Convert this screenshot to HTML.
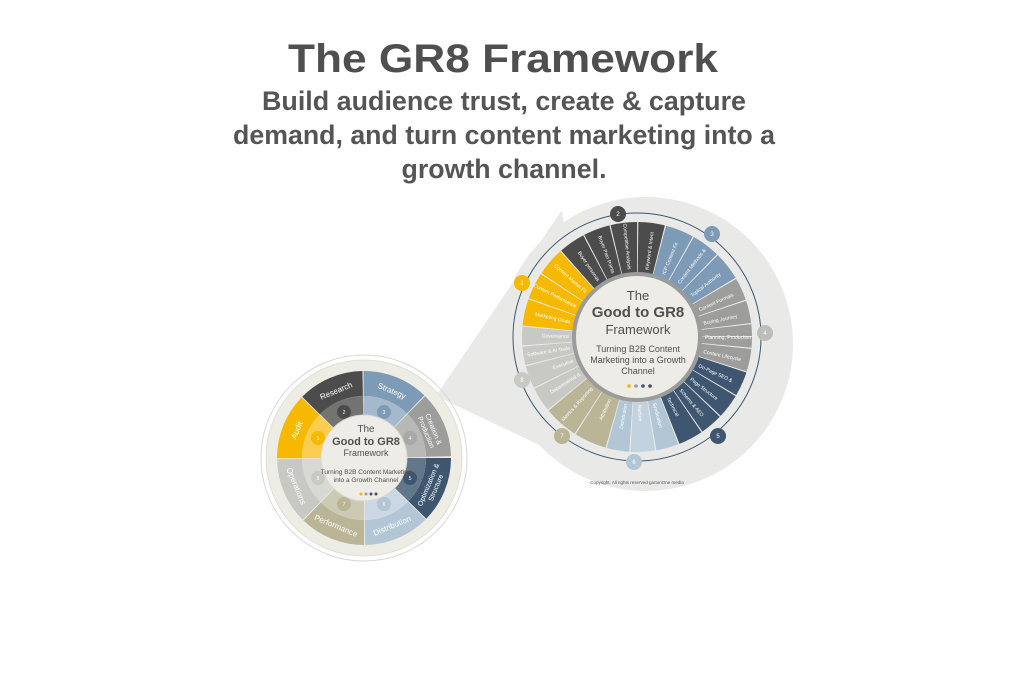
<!DOCTYPE html>
<html><head><meta charset="utf-8"><style>
html,body{margin:0;padding:0;background:#fff;}
svg{display:block;}
text{font-family:"Liberation Sans",sans-serif;}
.bl{font-size:5px;fill:#fff;}
.sl{font-size:8px;fill:#fff;}
</style></head><body>
<svg width="1024" height="686" viewBox="0 0 1024 686" xmlns="http://www.w3.org/2000/svg">
<rect width="1024" height="686" fill="#fff"/>
<text x="503" y="72" text-anchor="middle" font-size="40" font-weight="bold" fill="#4f4f4f" textLength="430" lengthAdjust="spacingAndGlyphs">The GR8 Framework</text>
<text x="504" y="110" text-anchor="middle" font-size="27" font-weight="bold" fill="#555" textLength="484" lengthAdjust="spacingAndGlyphs">Build audience trust, create &amp; capture</text>
<text x="504" y="144" text-anchor="middle" font-size="27" font-weight="bold" fill="#555" textLength="542" lengthAdjust="spacingAndGlyphs">demand, and turn content marketing into a</text>
<text x="504" y="178" text-anchor="middle" font-size="27" font-weight="bold" fill="#555" textLength="205" lengthAdjust="spacingAndGlyphs">growth channel.</text>

<!-- cone + big bg -->
<polygon points="436,396 562,210 592,470" fill="#e9e9e8"/>
<circle cx="646" cy="344" r="147" fill="#e9e9e8"/>

<!-- big wheel -->
<g fill="none" stroke-width="52">
<circle cx="637" cy="337" r="89" pathLength="360" stroke="#f6b900" stroke-dasharray="13.4 360" stroke-dashoffset="-186"/>
<circle cx="637" cy="337" r="89" pathLength="360" stroke="#f6b900" stroke-dasharray="13.4 360" stroke-dashoffset="-200"/>
<circle cx="637" cy="337" r="89" pathLength="360" stroke="#f6b900" stroke-dasharray="14.4 360" stroke-dashoffset="-214"/>
<circle cx="637" cy="337" r="89" pathLength="360" stroke="#4b4c4b" stroke-dasharray="13.4 360" stroke-dashoffset="-229"/>
<circle cx="637" cy="337" r="89" pathLength="360" stroke="#4b4c4b" stroke-dasharray="13.4 360" stroke-dashoffset="-243"/>
<circle cx="637" cy="337" r="89" pathLength="360" stroke="#4b4c4b" stroke-dasharray="13.4 360" stroke-dashoffset="-257"/>
<circle cx="637" cy="337" r="89" pathLength="360" stroke="#4b4c4b" stroke-dasharray="13.4 360" stroke-dashoffset="-271"/>
<circle cx="637" cy="337" r="89" pathLength="360" stroke="#7d9ab6" stroke-dasharray="14.4 360" stroke-dashoffset="-285"/>
<circle cx="637" cy="337" r="89" pathLength="360" stroke="#7d9ab6" stroke-dasharray="14.4 360" stroke-dashoffset="-300"/>
<circle cx="637" cy="337" r="89" pathLength="360" stroke="#7d9ab6" stroke-dasharray="14.4 360" stroke-dashoffset="-315"/>
<circle cx="637" cy="337" r="89" pathLength="360" stroke="#9d9d9b" stroke-dasharray="11.4 360" stroke-dashoffset="-330"/>
<circle cx="637" cy="337" r="89" pathLength="360" stroke="#9d9d9b" stroke-dasharray="11.4 360" stroke-dashoffset="-342"/>
<circle cx="637" cy="337" r="89" pathLength="360" stroke="#9d9d9b" stroke-dasharray="6 360" stroke-dashoffset="-354"/>
<circle cx="637" cy="337" r="89" pathLength="360" stroke="#9d9d9b" stroke-dasharray="5.4 360" stroke-dashoffset="0"/>
<circle cx="637" cy="337" r="89" pathLength="360" stroke="#9d9d9b" stroke-dasharray="11.4 360" stroke-dashoffset="-6"/>
<circle cx="637" cy="337" r="89" pathLength="360" stroke="#3e5670" stroke-dasharray="12.4 360" stroke-dashoffset="-18"/>
<circle cx="637" cy="337" r="89" pathLength="360" stroke="#3e5670" stroke-dasharray="12.4 360" stroke-dashoffset="-31"/>
<circle cx="637" cy="337" r="89" pathLength="360" stroke="#3e5670" stroke-dasharray="11.4 360" stroke-dashoffset="-44"/>
<circle cx="637" cy="337" r="89" pathLength="360" stroke="#3e5670" stroke-dasharray="12.4 360" stroke-dashoffset="-56"/>
<circle cx="637" cy="337" r="89" pathLength="360" stroke="#b3c6d6" stroke-dasharray="11.4 360" stroke-dashoffset="-69"/>
<circle cx="637" cy="337" r="89" pathLength="360" stroke="#c3d2df" stroke-dasharray="12.4 360" stroke-dashoffset="-81"/>
<circle cx="637" cy="337" r="89" pathLength="360" stroke="#b3c6d6" stroke-dasharray="11.4 360" stroke-dashoffset="-94"/>
<circle cx="637" cy="337" r="89" pathLength="360" stroke="#b9b596" stroke-dasharray="16.4 360" stroke-dashoffset="-106"/>
<circle cx="637" cy="337" r="89" pathLength="360" stroke="#b9b596" stroke-dasharray="17.4 360" stroke-dashoffset="-123"/>
<circle cx="637" cy="337" r="89" pathLength="360" stroke="#c8c8c4" stroke-dasharray="12.4 360" stroke-dashoffset="-141"/>
<circle cx="637" cy="337" r="89" pathLength="360" stroke="#c8c8c4" stroke-dasharray="11.4 360" stroke-dashoffset="-154"/>
<circle cx="637" cy="337" r="89" pathLength="360" stroke="#c8c8c4" stroke-dasharray="9.4 360" stroke-dashoffset="-166"/>
<circle cx="637" cy="337" r="89" pathLength="360" stroke="#c8c8c4" stroke-dasharray="9.4 360" stroke-dashoffset="-176"/>
</g>
<!-- big labels -->
<g class="bl">
<text transform="rotate(13 637 337)" x="569" y="339" text-anchor="end">Marketing Goals</text>
<text transform="rotate(27 637 337)" x="569" y="339" text-anchor="end">Content Performance</text>
<text transform="rotate(41.5 637 337)" x="569" y="339" text-anchor="end">Content Market Fit</text>
<text transform="rotate(56 637 337)" x="569" y="339" text-anchor="end">Buyer personas</text>
<text transform="rotate(70 637 337)" x="569" y="339" text-anchor="end">Buyer Pain Points</text>
<text transform="rotate(84 637 337)" x="569" y="339" text-anchor="end">Competitive Analysis</text>
<text transform="rotate(278 637 337)" x="705" y="339">Keyword &amp; Intent</text>
<text transform="rotate(292.5 637 337)" x="705" y="339">ICP Content Fit</text>
<text transform="rotate(307.5 637 337)" x="705" y="339">Content Methods &amp;</text>
<text transform="rotate(322.5 637 337)" x="705" y="339">Topical Authority</text>
<text transform="rotate(336 637 337)" x="705" y="339">Content Formats</text>
<text transform="rotate(348 637 337)" x="705" y="339">Buying Journey</text>
<text transform="rotate(0 637 337)" x="705" y="339">Planning, Production</text>
<text transform="rotate(12 637 337)" x="705" y="339">Content Lifecycle</text>
<text transform="rotate(24.5 637 337)" x="705" y="339">On-Page SEO &amp;</text>
<text transform="rotate(37.5 637 337)" x="705" y="339">Page Structure</text>
<text transform="rotate(50 637 337)" x="705" y="339">Schema &amp; AEO</text>
<text transform="rotate(62.5 637 337)" x="705" y="339">Technical</text>
<text transform="rotate(75 637 337)" x="705" y="339">Syndication</text>
<text transform="rotate(87.5 637 337)" x="705" y="339">Nurture</text>
<text transform="rotate(-80 637 337)" x="569" y="339" text-anchor="end">Distribution</text>
<text transform="rotate(-66 637 337)" x="569" y="339" text-anchor="end">Attribution</text>
<text transform="rotate(-48 637 337)" x="569" y="339" text-anchor="end">Metrics &amp; Reporting</text>
<text transform="rotate(-32.5 637 337)" x="569" y="339" text-anchor="end">Departmental &amp;</text>
<text transform="rotate(-20 637 337)" x="569" y="339" text-anchor="end">Executive</text>
<text transform="rotate(-9 637 337)" x="569" y="339" text-anchor="end">Software &amp; AI Tools</text>
<text transform="rotate(1 637 337)" x="569" y="339" text-anchor="end">Governance</text>
</g>
<!-- ring -->
<circle cx="637" cy="337" r="124" fill="none" stroke="#3e5670" stroke-width="1"/>
<g font-size="6" fill="#fff" text-anchor="middle">
<circle cx="522" cy="283" r="8" fill="#f6b900"/><text x="522" y="285">1</text>
<circle cx="618" cy="214" r="8" fill="#4b4c4b"/><text x="618" y="216">2</text>
<circle cx="712" cy="234" r="8" fill="#7d9ab6"/><text x="712" y="236">3</text>
<circle cx="765" cy="333" r="8" fill="#bdbdbb"/><text x="765" y="335">4</text>
<circle cx="718" cy="436" r="8" fill="#3e5670"/><text x="718" y="438">5</text>
<circle cx="634" cy="462" r="8" fill="#b3c6d6"/><text x="634" y="464">6</text>
<circle cx="562" cy="436" r="8" fill="#b9b596"/><text x="562" y="438">7</text>
<circle cx="522" cy="380" r="8" fill="#c8c8c4"/><text x="522" y="382">8</text>
</g>
<!-- big center -->
<circle cx="637" cy="337" r="63" fill="#edece6" stroke="#9b9b9b" stroke-width="4"/>
<g text-anchor="middle" fill="#4f4f4f">
<text x="638" y="300" font-size="13">The</text>
<text x="638" y="317" font-size="15" font-weight="bold">Good to GR8</text>
<text x="638" y="334" font-size="13">Framework</text>
<text x="638" y="352" font-size="9">Turning B2B Content</text>
<text x="638" y="363" font-size="9">Marketing into a Growth</text>
<text x="638" y="374" font-size="9">Channel</text>
</g>
<circle cx="629" cy="386" r="1.8" fill="#f6b900"/><circle cx="636" cy="386" r="1.8" fill="#9d9d9b"/><circle cx="643" cy="386" r="1.8" fill="#3e5670"/><circle cx="650" cy="386" r="1.8" fill="#4b4c4b"/>
<text x="637" y="484" font-size="4.5" fill="#555" text-anchor="middle">Copyright. All rights reserved gartonOne media</text>

<!-- small wheel -->
<circle cx="364" cy="458" r="98" fill="#eeede5" stroke="#e0dfd6" stroke-width="1"/>
<circle cx="364" cy="458" r="103" fill="none" stroke="#d8d8d8" stroke-width="1"/>
<g fill="none" stroke-width="25">
<circle cx="364" cy="458" r="74.5" pathLength="360" stroke="#f6b900" stroke-dasharray="44.3 360" stroke-dashoffset="-180"/>
<circle cx="364" cy="458" r="74.5" pathLength="360" stroke="#4b4c4b" stroke-dasharray="44.3 360" stroke-dashoffset="-225"/>
<circle cx="364" cy="458" r="74.5" pathLength="360" stroke="#7d9ab6" stroke-dasharray="44.3 360" stroke-dashoffset="-270"/>
<circle cx="364" cy="458" r="74.5" pathLength="360" stroke="#9d9d9b" stroke-dasharray="44.3 360" stroke-dashoffset="-315"/>
<circle cx="364" cy="458" r="74.5" pathLength="360" stroke="#3e5670" stroke-dasharray="44.3 360" stroke-dashoffset="0"/>
<circle cx="364" cy="458" r="74.5" pathLength="360" stroke="#b3c6d6" stroke-dasharray="44.3 360" stroke-dashoffset="-45"/>
<circle cx="364" cy="458" r="74.5" pathLength="360" stroke="#b9b596" stroke-dasharray="44.3 360" stroke-dashoffset="-90"/>
<circle cx="364" cy="458" r="74.5" pathLength="360" stroke="#c8c8c4" stroke-dasharray="44.3 360" stroke-dashoffset="-135"/>
</g>
<g fill="none" stroke-width="19">
<circle cx="364" cy="458" r="52.5" pathLength="360" stroke="#f8cd50" stroke-dasharray="44.3 360" stroke-dashoffset="-180"/>
<circle cx="364" cy="458" r="52.5" pathLength="360" stroke="#737472" stroke-dasharray="44.3 360" stroke-dashoffset="-225"/>
<circle cx="364" cy="458" r="52.5" pathLength="360" stroke="#a5b9cc" stroke-dasharray="44.3 360" stroke-dashoffset="-270"/>
<circle cx="364" cy="458" r="52.5" pathLength="360" stroke="#b8b8b6" stroke-dasharray="44.3 360" stroke-dashoffset="-315"/>
<circle cx="364" cy="458" r="52.5" pathLength="360" stroke="#627789" stroke-dasharray="44.3 360" stroke-dashoffset="0"/>
<circle cx="364" cy="458" r="52.5" pathLength="360" stroke="#cbd8e3" stroke-dasharray="44.3 360" stroke-dashoffset="-45"/>
<circle cx="364" cy="458" r="52.5" pathLength="360" stroke="#cdcab3" stroke-dasharray="44.3 360" stroke-dashoffset="-90"/>
<circle cx="364" cy="458" r="52.5" pathLength="360" stroke="#d8d8d4" stroke-dasharray="44.3 360" stroke-dashoffset="-135"/>
</g>
<g class="sl" text-anchor="middle">
<text transform="rotate(292.5 364 458)" x="364" y="388">Audit</text>
<text transform="rotate(337.5 364 458)" x="364" y="388">Research</text>
<text transform="rotate(22.5 364 458)" x="364" y="388">Strategy</text>
<text transform="rotate(67.5 364 458)" x="364" y="385" font-size="7">Creation &amp;</text>
<text transform="rotate(67.5 364 458)" x="364" y="393" font-size="7">Production</text>
<text transform="rotate(-67.5 364 458)" x="364" y="530" font-size="7">Optimization &amp;</text>
<text transform="rotate(-67.5 364 458)" x="364" y="538" font-size="7">Structure</text>
<text transform="rotate(-22.5 364 458)" x="364" y="534">Distribution</text>
<text transform="rotate(22.5 364 458)" x="364" y="534">Performance</text>
<text transform="rotate(67.5 364 458)" x="364" y="534">Operations</text>
</g>
<g font-size="5" fill="#fff" text-anchor="middle">
<circle cx="318" cy="438" r="7" fill="#f6b900"/><text x="318" y="440">1</text>
<circle cx="344" cy="412" r="7" fill="#4b4c4b"/><text x="344" y="414">2</text>
<circle cx="384" cy="412" r="7" fill="#7d9ab6"/><text x="384" y="414">3</text>
<circle cx="410" cy="438" r="7" fill="#a8a8a6"/><text x="410" y="440">4</text>
<circle cx="410" cy="478" r="7" fill="#3e5670"/><text x="410" y="480">5</text>
<circle cx="384" cy="504" r="7" fill="#b3c6d6"/><text x="384" y="506">6</text>
<circle cx="344" cy="504" r="7" fill="#b9b596"/><text x="344" y="506">7</text>
<circle cx="318" cy="478" r="7" fill="#c8c8c4"/><text x="318" y="480">8</text>
</g>
<circle cx="364" cy="458" r="43" fill="#edece6" stroke="#d8d7cf" stroke-width="1"/>
<g text-anchor="middle" fill="#4f4f4f">
<text x="366" y="432" font-size="10">The</text>
<text x="366" y="445" font-size="11" font-weight="bold">Good to GR8</text>
<text x="366" y="456" font-size="9">Framework</text>
<text x="366" y="474" font-size="6.5">Turning B2B Content Marketing</text>
<text x="366" y="482" font-size="6.5">into a Growth Channel</text>
</g>
<circle cx="361" cy="494" r="1.5" fill="#f6b900"/><circle cx="366" cy="494" r="1.5" fill="#9d9d9b"/><circle cx="371" cy="494" r="1.5" fill="#3e5670"/><circle cx="376" cy="494" r="1.5" fill="#4b4c4b"/>
</svg>
</body></html>
